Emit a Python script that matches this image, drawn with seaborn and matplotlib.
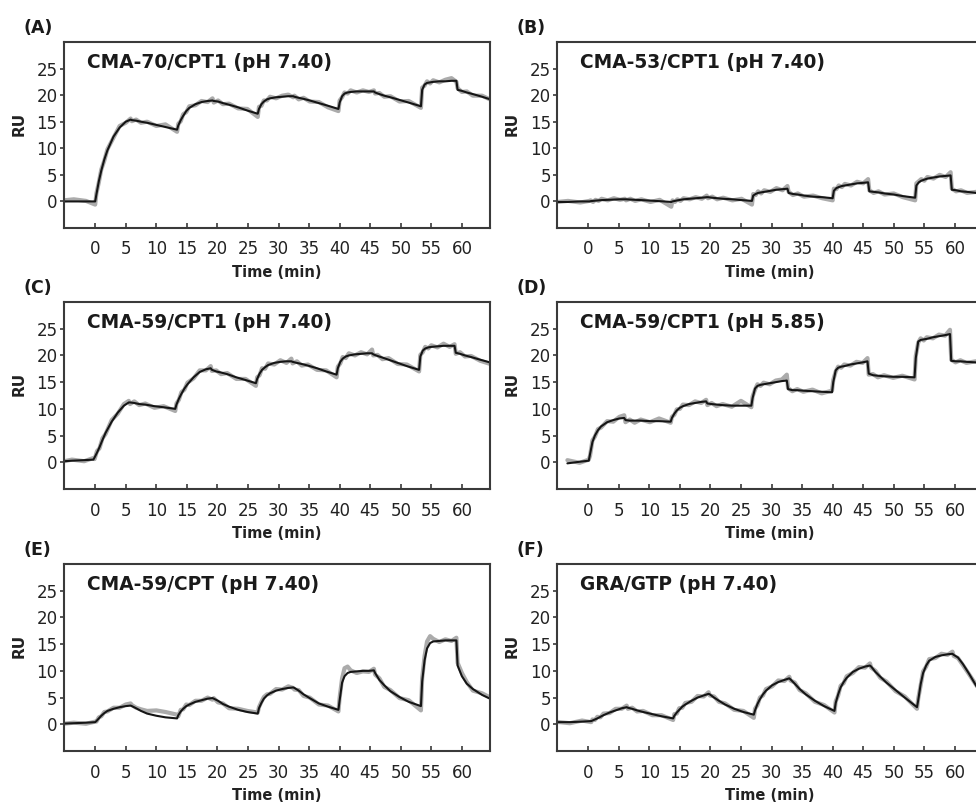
import numpy as np
import matplotlib
matplotlib.use("Agg")
import matplotlib.pyplot as plt
import seaborn as sns

# time grid (min): baseline, then 5 x (association, dissociation)
time_min = [
    -6, -3.5, -1.5, 0,
    0.2, 0.6, 1, 1.5, 2, 3, 4, 5, 5.8,
    6.0, 6.7, 7.5, 8.5, 10, 11.5, 13.4,
    13.6, 14, 14.4, 14.9, 15.4, 16.4, 17.4, 18.4, 19.2,
    19.4, 20.1, 20.9, 21.9, 23.4, 24.9, 26.6,
    26.8, 27.2, 27.6, 28.1, 28.6, 29.6, 30.6, 31.6, 32.4,
    32.6, 33.3, 34.1, 35.1, 36.6, 38.1, 39.8,
    40.0, 40.4, 40.8, 41.3, 41.8, 42.8, 43.8, 44.8, 45.6,
    45.8, 46.5, 47.3, 48.3, 49.8, 51.3, 53.3,
    53.5, 53.9, 54.3, 54.8, 55.3, 56.3, 57.3, 58.3, 59.1,
    59.3, 60.0, 60.8, 61.8, 63.3, 65.5,
]

# injection timing offset of each run (min)
shift = [0, 0.2, -0.3, 0.1, 0, 0.5]

panel_labels = ["(A)", "(B)", "(C)", "(D)", "(E)", "(F)"]
titles = [
    "CMA-70/CPT1 (pH 7.40)",
    "CMA-53/CPT1 (pH 7.40)",
    "CMA-59/CPT1 (pH 7.40)",
    "CMA-59/CPT1 (pH 5.85)",
    "CMA-59/CPT (pH 7.40)",
    "GRA/GTP (pH 7.40)",
]

nan = np.nan

# fitted curves (RU)
fit_a = [0.0, 0.0, 0.0, 0.0,
         1.3, 3.8, 5.8, 7.9, 9.6, 12.2, 13.9, 15.0, 15.4,
         15.3, 15.2, 15.0, 14.8, 14.4, 14.0, 13.5,
         14.3, 15.3, 16.1, 17.0, 17.6, 18.3, 18.7, 18.9, 19.0,
         18.9, 18.8, 18.5, 18.2, 17.7, 17.1, 16.5,
         17.4, 18.3, 18.8, 19.2, 19.4, 19.6, 19.7, 19.8, 19.8,
         19.7, 19.5, 19.3, 19.0, 18.5, 18.0, 17.4,
         18.6, 19.8, 20.3, 20.5, 20.6, 20.7, 20.7, 20.7, 20.7,
         20.5, 20.2, 19.9, 19.6, 19.1, 18.6, 17.9,
         21.0, 22.0, 22.3, 22.4, 22.5, 22.6, 22.6, 22.7, 22.7,
         21.0, 20.8, 20.5, 20.2, 19.7, 18.9]
fit_b = [-0.1, -0.1, 0.0, 0.0,
         0.05, 0.1, 0.15, 0.2, 0.25, 0.3, 0.35, 0.4, 0.4,
         0.4, 0.35, 0.3, 0.25, 0.15, 0.05, -0.1,
         0.0, 0.1, 0.2, 0.3, 0.4, 0.5, 0.6, 0.7, 0.8,
         0.8, 0.7, 0.6, 0.5, 0.4, 0.25, 0.1,
         1.1, 1.4, 1.6, 1.7, 1.8, 2.0, 2.2, 2.3, 2.4,
         1.6, 1.4, 1.3, 1.1, 0.9, 0.8, 0.6,
         2.0, 2.5, 2.7, 2.9, 3.0, 3.2, 3.4, 3.5, 3.6,
         1.9, 1.8, 1.7, 1.5, 1.3, 1.0, 0.7,
         3.0, 3.6, 3.9, 4.1, 4.3, 4.5, 4.7, 4.8, 4.9,
         2.2, 2.1, 1.9, 1.8, 1.6, 1.3]
fit_c = [0.1, 0.3, 0.4, 0.5,
         0.9, 1.8, 2.8, 4.2, 5.5, 7.6, 9.3, 10.6, 11.2,
         11.2, 11.1, 10.9, 10.8, 10.5, 10.3, 10.0,
         10.8, 11.9, 12.8, 13.8, 14.6, 15.9, 16.9, 17.4, 17.6,
         17.3, 17.0, 16.8, 16.5, 15.9, 15.4, 14.8,
         15.6, 16.6, 17.3, 17.8, 18.2, 18.6, 18.8, 18.9, 18.9,
         18.8, 18.6, 18.4, 18.1, 17.6, 17.0, 16.4,
         17.6, 18.8, 19.4, 19.8, 20.0, 20.2, 20.3, 20.4, 20.4,
         20.2, 19.9, 19.6, 19.2, 18.6, 18.0, 17.3,
         19.8, 20.9, 21.3, 21.5, 21.6, 21.7, 21.8, 21.8, 21.8,
         20.5, 20.3, 20.0, 19.7, 19.2, 18.5]
fit_d = [nan, -0.2, 0.1, 0.3,
         1.5, 3.8, 5.0, 6.0, 6.7, 7.5, 7.9, 8.2, 8.3,
         7.9, 7.8, 7.8, 7.8, 7.7, 7.7, 7.6,
         8.3, 9.1, 9.7, 10.2, 10.5, 10.9, 11.1, 11.3, 11.4,
         11.0, 10.9, 10.8, 10.7, 10.6, 10.6, 10.6,
         12.0, 13.8, 14.3, 14.5, 14.6, 14.8, 15.0, 15.2, 15.3,
         13.7, 13.5, 13.5, 13.4, 13.3, 13.2, 13.1,
         15.0, 17.2, 17.7, 17.9, 18.0, 18.3, 18.5, 18.7, 18.9,
         16.6, 16.3, 16.2, 16.1, 16.0, 16.0, 15.9,
         19.5, 22.6, 22.9, 23.0, 23.1, 23.4, 23.6, 23.8, 24.0,
         19.0, 18.9, 18.9, 18.8, 18.7, 18.6]
fit_e = [0.1, 0.2, 0.3, 0.4,
         0.6, 1.1, 1.6, 2.1, 2.5, 2.9, 3.2, 3.4, 3.5,
         3.4, 3.0, 2.5, 2.0, 1.6, 1.3, 1.1,
         1.7, 2.4, 2.9, 3.4, 3.7, 4.2, 4.5, 4.8, 4.9,
         4.8, 4.4, 3.8, 3.3, 2.7, 2.3, 2.0,
         3.0, 4.0, 4.8, 5.4, 5.8, 6.3, 6.6, 6.8, 6.9,
         6.8, 6.3, 5.6, 4.9, 3.9, 3.3, 2.7,
         4.5, 7.8, 9.0, 9.6, 9.8, 9.9, 10.0, 10.0, 10.1,
         9.6, 8.3, 7.3, 6.2, 5.1, 4.2, 3.4,
         8.0, 12.0, 14.2, 15.2, 15.5, 15.6, 15.7, 15.7, 15.7,
         11.0, 9.0, 7.6, 6.6, 5.5, 4.3]
fit_f = [0.4, 0.4, 0.5, 0.6,
         0.7, 0.9, 1.1, 1.4, 1.7, 2.2, 2.6, 3.0, 3.2,
         3.1, 2.9, 2.6, 2.3, 1.9, 1.5, 1.1,
         1.6, 2.2, 2.7, 3.3, 3.7, 4.4, 5.0, 5.4, 5.7,
         5.6, 5.0, 4.4, 3.7, 2.9, 2.3, 1.8,
         2.6, 3.8, 4.7, 5.6, 6.3, 7.3, 7.9, 8.3, 8.6,
         8.4, 7.6, 6.6, 5.6, 4.4, 3.4, 2.5,
         4.0, 5.6, 6.9, 7.9, 8.7, 9.8, 10.4, 10.8, 11.0,
         10.8, 9.8, 8.9, 7.8, 6.4, 5.0, 3.2,
         4.5, 7.5, 9.6, 11.0, 11.9, 12.6, 12.9, 13.1, 13.2,
         13.0, 12.5, 11.3, 9.5, 6.6, 4.5]

# measured responses (RU)
data_a = [0.1, 0.4, 0.1, -0.6,
          1.5, 3.6, 6.0, 7.7, 9.8, 12.0, 14.2, 14.8, 15.6,
          15.1, 15.4, 14.8, 15.0, 14.2, 14.5, 13.1,
          14.6, 15.1, 16.4, 16.8, 17.9, 18.1, 18.9, 18.7, 19.4,
          18.6, 19.0, 18.3, 18.4, 17.5, 17.4, 15.9,
          17.8, 18.0, 19.0, 19.0, 19.7, 19.4, 19.9, 20.1, 19.6,
          19.9, 19.2, 19.5, 18.8, 18.7, 17.7, 17.0,
          19.0, 19.6, 20.5, 20.3, 20.9, 20.5, 20.9, 20.6, 20.9,
          20.3, 20.4, 19.7, 19.8, 18.8, 18.9, 17.6,
          21.4, 21.8, 22.6, 22.2, 22.8, 22.4, 22.9, 23.2, 22.5,
          21.3, 20.6, 20.7, 19.9, 19.9, 18.7]
data_b = [-0.2, 0.1, -0.2, 0.1,
          0.2, -0.1, 0.3, 0.1, 0.5, 0.2, 0.6, 0.3, 0.5,
          0.2, 0.5, 0.1, 0.4, -0.1, 0.3, -1.0,
          0.2, -0.1, 0.4, 0.1, 0.6, 0.4, 0.8, 0.5, 1.1,
          0.6, 0.9, 0.4, 0.7, 0.2, 0.5, -0.6,
          1.4, 1.2, 1.9, 1.5, 2.1, 1.8, 2.5, 2.1, 2.9,
          1.8, 1.2, 1.5, 0.9, 1.1, 0.6, 0.2,
          2.4, 2.3, 3.0, 2.7, 3.3, 3.0, 3.7, 3.4, 4.2,
          2.1, 1.6, 1.9, 1.3, 1.5, 0.8, 0.2,
          3.4, 3.8, 4.2, 3.9, 4.6, 4.3, 5.0, 4.6, 5.5,
          2.4, 1.9, 2.1, 1.6, 1.8, 1.1]
data_c = [-0.1, 0.5, 0.2, 0.8,
          0.6, 2.1, 2.6, 4.5, 5.3, 7.9, 9.1, 10.9, 11.5,
          10.9, 11.4, 10.7, 11.0, 10.2, 10.5, 9.6,
          11.0, 11.7, 13.1, 13.6, 14.9, 15.7, 17.2, 17.2, 18.0,
          17.1, 17.2, 16.5, 16.7, 15.6, 15.6, 14.3,
          15.9, 16.3, 17.6, 17.5, 18.5, 18.3, 19.1, 18.6, 19.4,
          18.5, 18.9, 18.1, 18.3, 17.3, 17.2, 15.9,
          17.9, 18.5, 19.7, 19.5, 20.4, 20.0, 20.6, 20.2, 21.1,
          20.0, 20.1, 19.3, 19.5, 18.4, 18.3, 17.0,
          20.1, 20.6, 21.6, 21.3, 21.9, 21.5, 22.2, 21.6, 22.1,
          20.3, 20.6, 19.8, 19.9, 19.0, 18.2]
data_d = [nan, 0.4, -0.1, 0.5,
          1.2, 4.1, 4.8, 6.2, 6.5, 7.7, 7.6, 8.5, 8.8,
          7.5, 8.0, 7.4, 8.0, 7.5, 8.2, 7.4,
          8.5, 8.9, 9.9, 10.0, 10.8, 10.7, 11.4, 11.1, 11.7,
          10.7, 11.1, 10.5, 10.9, 10.4, 11.5, 10.3,
          12.3, 13.6, 14.6, 14.3, 14.9, 14.6, 15.3, 15.5, 16.4,
          13.9, 13.3, 13.7, 13.2, 13.6, 12.9, 13.4,
          15.4, 17.0, 17.9, 17.7, 18.3, 18.1, 18.8, 18.6, 19.5,
          16.4, 16.5, 15.9, 16.3, 15.8, 16.2, 15.5,
          19.9, 22.4, 23.2, 22.8, 23.4, 23.2, 23.9, 23.7, 24.8,
          19.2, 18.7, 19.1, 18.6, 18.9, 18.4]
data_e = [0.0, 0.3, 0.1, 0.5,
          0.5, 1.3, 1.5, 2.3, 2.4, 3.1, 3.1, 3.7, 3.9,
          3.6, 3.1, 2.8, 2.5, 2.6, 2.3, 1.8,
          1.5, 2.7, 2.8, 3.7, 3.6, 4.4, 4.4, 5.0, 4.6,
          4.9, 4.1, 3.9, 3.0, 2.9, 2.5, 2.2,
          3.2, 4.2, 5.1, 5.6, 5.7, 6.6, 6.5, 7.1, 6.8,
          6.5, 6.4, 5.3, 5.0, 3.7, 3.5, 2.4,
          5.0, 8.6, 10.5, 10.8, 10.1, 9.6, 9.9, 9.8, 10.4,
          9.3, 8.6, 7.0, 6.4, 4.9, 4.5, 2.6,
          8.6, 12.8, 15.5, 16.5, 16.0, 15.4, 15.9, 15.6, 16.2,
          11.5, 9.6, 7.9, 6.3, 5.8, 4.5]
data_f = [0.5, 0.2, 0.7, 0.4,
          0.9, 0.8, 1.4, 1.3, 2.0, 2.1, 2.9, 2.9, 3.5,
          2.9, 3.1, 2.4, 2.5, 1.7, 1.7, 0.8,
          1.9, 2.0, 3.0, 3.1, 4.0, 4.2, 5.3, 5.2, 6.0,
          5.4, 5.2, 4.2, 3.9, 2.7, 2.5, 1.2,
          2.9, 3.6, 5.0, 5.4, 6.6, 7.1, 8.2, 8.1, 8.9,
          8.2, 7.8, 6.4, 5.8, 4.2, 3.6, 2.2,
          4.3, 5.4, 7.2, 7.7, 9.0, 9.6, 10.7, 10.6, 11.4,
          10.6, 10.0, 8.7, 8.0, 6.2, 5.2, 2.9,
          4.8, 7.3, 9.9, 10.8, 12.2, 12.4, 13.2, 13.0, 13.6,
          12.8, 12.4, 11.1, 9.4, 6.8, 4.7]

fits = [fit_a, fit_b, fit_c, fit_d, fit_e, fit_f]
measured = [data_a, data_b, data_c, data_d, data_e, data_f]

sns.set_theme(style="ticks")
plt.rcParams["font.family"] = ["DejaVu Sans"]
dark = "#3a3a3a"

W, H = 976, 807
fig = plt.figure(figsize=(W / 100, H / 100), dpi=100)
lefts = [64, 557]
tops = [42, 302, 564]
heights = [186, 187, 187]
width = 426

for i in range(6):
    r, c = divmod(i, 2)
    ax = fig.add_axes([lefts[c] / W, 1 - (tops[r] + heights[r]) / H,
                       width / W, heights[r] / H])
    t = np.array(time_min) + shift[i]

    # raw sensorgram (gray) and fitted curve (black)
    sns.lineplot(x=t, y=measured[i], ax=ax, color="#ababab", linewidth=3.0,
                 estimator=None, sort=False)
    sns.lineplot(x=t, y=fits[i], ax=ax, color="#151515", linewidth=1.5,
                 estimator=None, sort=False)

    ax.set_xlim(-5.1, 64.6)
    ax.set_ylim(-5, 30)
    ax.set_xticks(range(0, 61, 5))
    ax.set_yticks(range(0, 26, 5))
    ax.tick_params(axis="x", direction="in", length=3.6, width=1.2,
                   color=dark, labelsize=12, pad=9, labelcolor="#222222")
    ax.tick_params(axis="y", direction="out", length=3, width=1.2,
                   color=dark, labelsize=12, pad=1.5, labelcolor="#222222")
    for sp in ax.spines.values():
        sp.set_visible(True)
        sp.set_color(dark)
        sp.set_linewidth(1.5)

    ax.set_xlabel("Time (min)", fontsize=10.5, fontweight="bold", color="#222222")
    ax.xaxis.set_label_coords(0.5, -0.2)
    ax.set_ylabel("RU", fontsize=11, fontweight="bold", color="#222222")
    ax.yaxis.set_label_coords(-0.088, 0.56)

    ax.text(0.054, 0.892, titles[i], transform=ax.transAxes, fontsize=13.4,
            fontweight="bold", color="#1a1a1a", ha="left", va="center")
    ax.text(-0.096, 1.075, panel_labels[i], transform=ax.transAxes,
            fontsize=12.5, fontweight="bold", color="#1a1a1a",
            ha="left", va="center")

fig.savefig("out.png", dpi=100)
